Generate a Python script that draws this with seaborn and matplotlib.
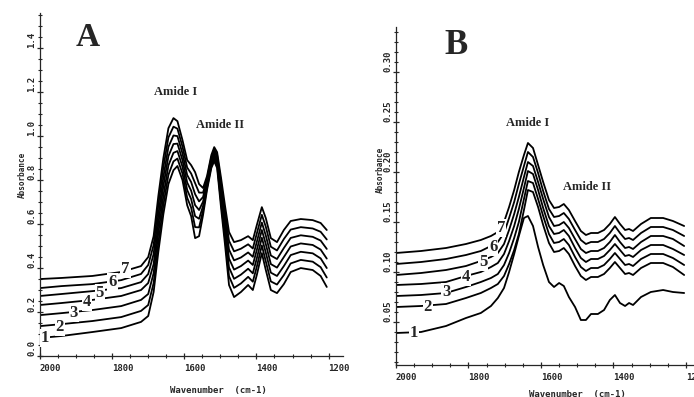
import numpy as np
import pandas as pd
from matplotlib import pyplot as plt
from matplotlib.ticker import MultipleLocator
import seaborn as sns

# ---- panel A : wavenumber grid and the seven stacked spectra ----
wn_a = [2000, 1940, 1855, 1775, 1720, 1700, 1685, 1672, 1658, 1644,
        1630, 1619, 1605, 1592, 1581, 1570, 1559, 1548, 1537, 1525,
        1517, 1509, 1498, 1487, 1476, 1462, 1443, 1423, 1410, 1399,
        1385, 1374, 1360, 1343, 1324, 1305, 1277, 1244, 1222, 1205]
a1 = [0.082, 0.091, 0.109, 0.127, 0.155, 0.182, 0.291, 0.473, 0.645, 0.782,
      0.845, 0.864, 0.800, 0.686, 0.636, 0.536, 0.545, 0.641, 0.755, 0.855,
      0.886, 0.855, 0.673, 0.505, 0.323, 0.268, 0.291, 0.323, 0.300, 0.368,
      0.468, 0.391, 0.300, 0.286, 0.327, 0.382, 0.400, 0.391, 0.364, 0.314]
a2 = [0.136, 0.145, 0.159, 0.177, 0.205, 0.232, 0.332, 0.514, 0.686, 0.824,
      0.885, 0.898, 0.830, 0.720, 0.675, 0.586, 0.585, 0.661, 0.765, 0.865,
      0.897, 0.867, 0.696, 0.534, 0.363, 0.310, 0.330, 0.360, 0.338, 0.406,
      0.503, 0.430, 0.339, 0.325, 0.368, 0.421, 0.437, 0.429, 0.404, 0.357]
a3 = [0.186, 0.195, 0.209, 0.227, 0.255, 0.282, 0.377, 0.559, 0.727, 0.867,
      0.924, 0.932, 0.861, 0.755, 0.714, 0.636, 0.624, 0.682, 0.776, 0.875,
      0.907, 0.879, 0.718, 0.564, 0.403, 0.351, 0.370, 0.397, 0.376, 0.444,
      0.538, 0.470, 0.379, 0.364, 0.409, 0.459, 0.474, 0.467, 0.444, 0.400]
a4 = [0.232, 0.241, 0.255, 0.273, 0.300, 0.332, 0.418, 0.600, 0.773, 0.909,
      0.964, 0.966, 0.891, 0.789, 0.752, 0.686, 0.664, 0.702, 0.786, 0.884,
      0.918, 0.891, 0.741, 0.593, 0.443, 0.393, 0.409, 0.434, 0.414, 0.482,
      0.573, 0.509, 0.418, 0.402, 0.450, 0.498, 0.512, 0.505, 0.484, 0.443]
a5 = [0.273, 0.282, 0.295, 0.309, 0.336, 0.373, 0.464, 0.641, 0.814, 0.951,
      1.003, 1.000, 0.921, 0.823, 0.791, 0.736, 0.703, 0.723, 0.797, 0.894,
      0.929, 0.903, 0.764, 0.623, 0.484, 0.435, 0.448, 0.471, 0.451, 0.519,
      0.607, 0.548, 0.457, 0.441, 0.491, 0.537, 0.549, 0.542, 0.525, 0.487]
a6 = [0.309, 0.318, 0.327, 0.345, 0.373, 0.414, 0.505, 0.686, 0.859, 0.994,
      1.043, 1.034, 0.952, 0.857, 0.830, 0.786, 0.743, 0.743, 0.807, 0.904,
      0.939, 0.915, 0.786, 0.652, 0.524, 0.476, 0.488, 0.508, 0.489, 0.557,
      0.642, 0.588, 0.497, 0.480, 0.532, 0.575, 0.586, 0.580, 0.565, 0.530]
a7 = [0.350, 0.355, 0.364, 0.382, 0.409, 0.450, 0.545, 0.727, 0.900, 1.036,
      1.082, 1.068, 0.982, 0.891, 0.868, 0.836, 0.782, 0.764, 0.818, 0.914,
      0.950, 0.927, 0.809, 0.682, 0.564, 0.518, 0.527, 0.545, 0.527, 0.595,
      0.677, 0.627, 0.536, 0.518, 0.573, 0.614, 0.623, 0.618, 0.605, 0.573]
# where the curve numbers sit (wavenumber, absorbance)
lab_a_wn = [1986, 1945, 1906, 1870, 1834, 1799, 1763]
lab_a_y = [0.082, 0.132, 0.195, 0.245, 0.286, 0.336, 0.395]

# ---- panel B ----
wn_b = [2000, 1931, 1862, 1807, 1766, 1738, 1719, 1702, 1688, 1674,
        1661, 1647, 1636, 1622, 1608, 1594, 1578, 1564, 1550, 1537,
        1523, 1506, 1490, 1476, 1462, 1443, 1426, 1410, 1396, 1382,
        1368, 1357, 1346, 1324, 1297, 1263, 1236, 1205]
b1 = [0.039, 0.040, 0.046, 0.054, 0.059, 0.066, 0.074, 0.084, 0.100, 0.118,
      0.136, 0.154, 0.156, 0.146, 0.125, 0.107, 0.090, 0.085, 0.089, 0.086,
      0.075, 0.065, 0.052, 0.052, 0.058, 0.058, 0.062, 0.072, 0.077, 0.069,
      0.066, 0.069, 0.067, 0.075, 0.080, 0.082, 0.080, 0.079]
b2 = [0.065, 0.066, 0.068, 0.074, 0.079, 0.084, 0.088, 0.096, 0.108, 0.122,
      0.138, 0.162, 0.182, 0.180, 0.165, 0.147, 0.129, 0.120, 0.121, 0.124,
      0.118, 0.106, 0.096, 0.092, 0.095, 0.095, 0.098, 0.104, 0.110, 0.104,
      0.098, 0.099, 0.097, 0.104, 0.109, 0.109, 0.105, 0.097]
b3 = [0.076, 0.077, 0.079, 0.085, 0.090, 0.094, 0.098, 0.107, 0.119, 0.134,
      0.150, 0.173, 0.191, 0.189, 0.173, 0.156, 0.138, 0.129, 0.130, 0.133,
      0.127, 0.115, 0.105, 0.101, 0.104, 0.104, 0.107, 0.113, 0.119, 0.113,
      0.107, 0.108, 0.106, 0.113, 0.118, 0.118, 0.114, 0.107]
b4 = [0.087, 0.088, 0.090, 0.096, 0.100, 0.105, 0.109, 0.118, 0.131, 0.146,
      0.163, 0.184, 0.201, 0.198, 0.182, 0.164, 0.146, 0.138, 0.139, 0.142,
      0.136, 0.124, 0.114, 0.110, 0.113, 0.113, 0.116, 0.122, 0.128, 0.122,
      0.116, 0.117, 0.115, 0.122, 0.127, 0.127, 0.123, 0.117]
b5 = [0.097, 0.099, 0.102, 0.106, 0.111, 0.115, 0.119, 0.128, 0.142, 0.158,
      0.175, 0.195, 0.210, 0.206, 0.190, 0.173, 0.155, 0.146, 0.147, 0.150,
      0.144, 0.133, 0.123, 0.119, 0.121, 0.121, 0.124, 0.130, 0.137, 0.130,
      0.124, 0.125, 0.123, 0.130, 0.136, 0.136, 0.133, 0.126]
b6 = [0.108, 0.110, 0.113, 0.117, 0.121, 0.126, 0.130, 0.139, 0.154, 0.170,
      0.188, 0.206, 0.220, 0.215, 0.199, 0.181, 0.163, 0.155, 0.156, 0.159,
      0.153, 0.142, 0.132, 0.128, 0.130, 0.130, 0.133, 0.139, 0.146, 0.139,
      0.133, 0.134, 0.132, 0.139, 0.145, 0.145, 0.142, 0.136]
b7 = [0.119, 0.121, 0.124, 0.128, 0.132, 0.136, 0.140, 0.150, 0.165, 0.182,
      0.200, 0.217, 0.229, 0.224, 0.207, 0.190, 0.172, 0.164, 0.165, 0.168,
      0.162, 0.151, 0.141, 0.137, 0.139, 0.139, 0.142, 0.148, 0.155, 0.148,
      0.142, 0.143, 0.141, 0.148, 0.154, 0.154, 0.151, 0.146]
lab_b_wn = [1950, 1912, 1862, 1807, 1760, 1732, 1710]
lab_b_y = [0.039, 0.065, 0.080, 0.095, 0.110, 0.125, 0.144]

xticks = [2000, 1800, 1600, 1400, 1200]
yticks_a = [0.0, 0.2, 0.4, 0.6, 0.8, 1.0, 1.2, 1.4]
yticks_b = [0.05, 0.10, 0.15, 0.20, 0.25, 0.30]


def long_df(wn, curves):
    rows = []
    for i, c in enumerate(curves):
        rows.append(pd.DataFrame({'wn': wn, 'abs': c, 'curve': i + 1}))
    return pd.concat(rows, ignore_index=True)


df_a = long_df(wn_a, [a1, a2, a3, a4, a5, a6, a7])
df_b = long_df(wn_b, [b1, b2, b3, b4, b5, b6, b7])

sns.set_style('ticks')
plt.rcParams['font.family'] = ['DejaVu Sans Mono']
plt.rcParams['axes.linewidth'] = 0.9

fig = plt.figure(figsize=(6.94, 3.97), dpi=100)
ax_a = fig.add_axes([40 / 694, 41 / 397, 303 / 694, 343 / 397])
ax_b = fig.add_axes([396 / 694, 32 / 397, 307 / 694, 338 / 397])

serif = ['Liberation Serif', 'DejaVu Serif']
tick_font = dict(fontsize=6.5, fontweight='bold')

for ax, df, yt, ylim, xlim, fmt in [
        (ax_a, df_a, yticks_a, (0, 1.56), (2000, 1160), '{:.1f}'),
        (ax_b, df_b, yticks_b, (0.007, 0.345), (2000, 1153), '{:.2f}')]:
    sns.lineplot(data=df, x='wn', y='abs', units='curve', estimator=None,
                 color='black', lw=1.3, ax=ax, legend=False)
    ax.set_xlim(*xlim)
    ax.set_ylim(*ylim)
    ax.set_xticks(xticks, [str(t) for t in xticks], ha='left', **tick_font)
    ax.set_yticks(yt, [fmt.format(t) for t in yt], rotation=90,
                  va='bottom', **tick_font)
    ax.xaxis.set_minor_locator(MultipleLocator(50))
    ax.yaxis.set_minor_locator(MultipleLocator(0.05 if ax is ax_a else 0.01))
    ax.tick_params(which='major', direction='inout', length=5, width=0.9)
    ax.tick_params(which='minor', direction='inout', length=2.5, width=0.8)
    ax.tick_params(axis='y', which='major', pad=0)
    ax.tick_params(axis='x', which='major', pad=3)
    ax.set_xlabel('')
    ax.set_ylabel('')
    sns.despine(ax=ax)

# curve numbers
for ax, xs, ys in [(ax_a, lab_a_wn, lab_a_y), (ax_b, lab_b_wn, lab_b_y)]:
    for i, (x, y) in enumerate(zip(xs, ys)):
        ax.text(x, y, str(i + 1), family=serif, fontsize=12, fontweight='bold',
                ha='center', va='center', zorder=5,
                bbox=dict(fc='white', ec='none', pad=0.6))

# peak labels and panel letters
ax_a.text(1625, 1.20, 'Amide I', family=serif, fontsize=9,
          fontweight='bold', ha='center', va='center')
ax_a.text(1500, 1.05, 'Amide II', family=serif, fontsize=9,
          fontweight='bold', ha='center', va='center')
ax_b.text(1636, 0.249, 'Amide I', family=serif, fontsize=9,
          fontweight='bold', ha='center', va='center')
ax_b.text(1473, 0.185, 'Amide II', family=serif, fontsize=9,
          fontweight='bold', ha='center', va='center')
fig.text(88 / 694, 1 - 38 / 397, 'A', family=serif, fontsize=24,
         fontweight='bold', ha='center', va='center')
fig.text(456 / 694, 1 - 46 / 397, 'B', family=serif, fontsize=25,
         fontweight='bold', ha='center', va='center')

# axis titles
fig.text(22 / 694, 1 - 175 / 397, 'Absorbance', fontsize=5.5,
         fontweight='bold', rotation=90, ha='center', va='center')
fig.text(380 / 694, 1 - 170 / 397, 'Absorbance', fontsize=5.5,
         fontweight='bold', rotation=90, ha='center', va='center')
fig.text(218 / 694, 1 - 391 / 397, 'Wavenumber  (cm-1)', fontsize=6.5,
         fontweight='bold', ha='center', va='center')
fig.text(577 / 694, 1 - 395 / 397, 'Wavenumber  (cm-1)', fontsize=6.5,
         fontweight='bold', ha='center', va='center')

fig.savefig('out.png', dpi=100, facecolor='white')
